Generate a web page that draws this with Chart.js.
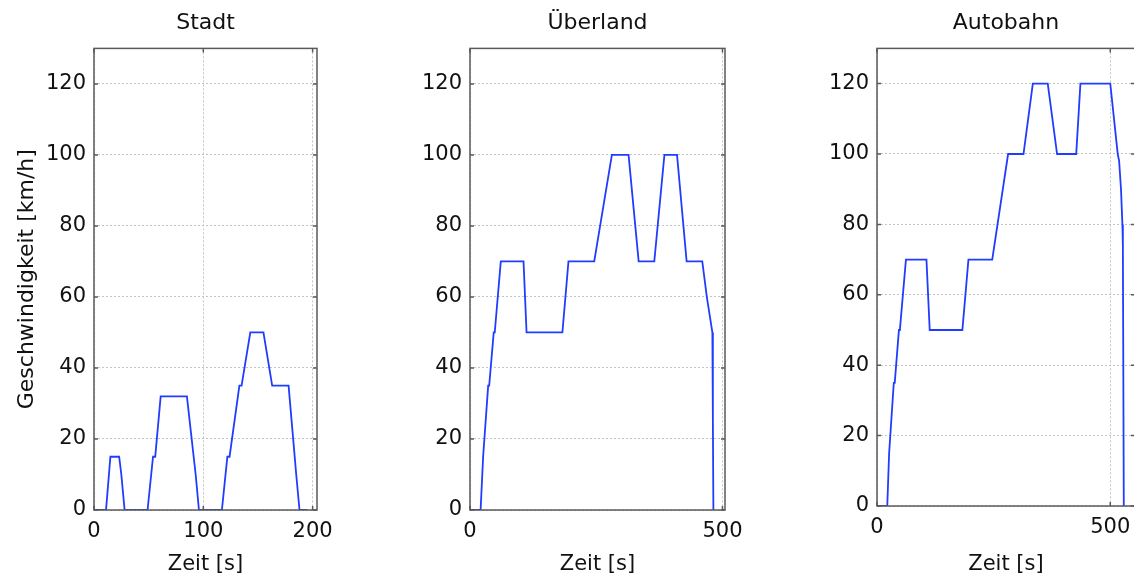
<!DOCTYPE html>
<html>
<head>
<meta charset="utf-8">
<script src="https://cdn.jsdelivr.net/npm/chart.js@4"></script>
<style>
  html, body { margin: 0; padding: 0; background: #fff; overflow: hidden; }
  body { width: 1134px; height: 577px; position: relative; }
  canvas { position: absolute; top: 0; }
</style>
</head>
<body>
<canvas id="stadt" width="340" height="577" style="left:0px"></canvas>
<canvas id="ueberland" width="380" height="577" style="left:380px"></canvas>
<canvas id="autobahn" width="380" height="577" style="left:780px"></canvas>
<script>
// Fahrzyklen: Zeit [s] und Geschwindigkeit [km/h]
var stadtZeit = [0, 11, 15, 23, 25, 28, 49, 54, 56, 61, 85, 93, 96, 117, 122, 124, 133, 135, 143, 155, 163, 176, 178, 185, 188, 195];
var stadtV    = [0,  0, 15, 15, 10,  0,  0, 15, 15, 32, 32, 10,  0,   0,  15,  15,  35,  35,  50,  50,  35,  35,  35,  10,   0,   0];

var ueberlandZeit = [0, 21, 26, 27, 36, 38, 47, 49, 61, 106, 112, 183, 195, 246, 281, 314, 334, 365, 385, 410, 429, 460, 469, 480, 481, 482];
var ueberlandV    = [0,  0, 15, 15, 35, 35, 50, 50, 70,  70,  50,  50,  70,  70, 100, 100,  70,  70, 100, 100,  70,  70,  60,  50,  25,   0];

var autobahnZeit = [0, 22, 26, 27, 36, 38, 47, 49, 62, 106, 113, 183, 196, 247, 281, 314, 334, 366, 386, 427, 436, 500, 516, 519, 523, 526, 527, 529];
var autobahnV    = [0,  0, 15, 15, 35, 35, 50, 50, 70,  70,  50,  50,  70,  70, 100, 100, 120, 120, 100, 100, 120, 120, 100,  98,  90,  80,  74,   0];

var yTicks = [0, 20, 40, 60, 80, 100, 120];
var stadtXTicks = [0, 100, 200];
var langXTicks = [0, 500];

var FONT = 'DejaVu Sans';
var TEXT = '#111';

// Rahmen mit nach innen zeigenden Ticks auf allen vier Seiten
var rahmen = {
    id: 'rahmen',
    afterDatasetsDraw: function (chart) {
        var ctx = chart.ctx;
        var a = chart.chartArea;
        var x = chart.scales.x, y = chart.scales.y;
        ctx.save();
        ctx.strokeStyle = '#5a5a5a';
        ctx.lineWidth = 1.5;
        ctx.beginPath();
        x.ticks.forEach(function (t) {
            var px = x.getPixelForValue(t.value);
            ctx.moveTo(px, a.bottom); ctx.lineTo(px, a.bottom - 4);
            ctx.moveTo(px, a.top); ctx.lineTo(px, a.top + 4);
        });
        y.ticks.forEach(function (t) {
            var py = y.getPixelForValue(t.value);
            ctx.moveTo(a.left, py); ctx.lineTo(a.left + 4, py);
            ctx.moveTo(a.right, py); ctx.lineTo(a.right - 4, py);
        });
        ctx.stroke();
        ctx.strokeRect(a.left, a.top, a.right - a.left, a.bottom - a.top);
        ctx.restore();
    }
};

function punkte(zeit, v) {
    var d = [];
    for (var i = 0; i < zeit.length; i++) {
        d.push({x: zeit[i], y: v[i]});
    }
    return d;
}

function festeTicks(werte) {
    return function (s) {
        s.ticks = werte.map(function (t) { return {value: t}; });
    };
}

// feste Achsgroesse, ohne Zusatzrand fuer ueberstehende Beschriftungen
function festeGroesse(breite, hoehe) {
    return function (s) {
        if (breite) s.width = breite;
        if (hoehe) s.height = hoehe;
        s.paddingLeft = s.paddingRight = s.paddingTop = s.paddingBottom = 0;
    };
}

function zeichneZyklus(id, titel, zeit, v, xMax, xTicks, yWidth, xHeight, padRight, yLabel) {
    var ctx = document.getElementById(id);
    return new Chart(ctx, {
        type: 'line',
        data: {
            datasets: [{
                data: punkte(zeit, v),
                borderColor: '#1f3cff',
                borderWidth: 1.8,
                pointRadius: 0,
                fill: false,
                tension: 0
            }]
        },
        options: {
            responsive: false,
            animation: false,
            devicePixelRatio: 1,
            layout: {padding: {left: 0, right: padRight, top: 0, bottom: 0}},
            plugins: {
                legend: {display: false},
                tooltip: {enabled: false},
                title: {
                    display: true,
                    text: titel,
                    fullSize: false,
                    color: TEXT,
                    font: {family: FONT, size: 22, weight: 'normal'},
                    padding: {top: 10, bottom: 12}
                }
            },
            scales: {
                x: {
                    type: 'linear',
                    min: 0,
                    max: xMax,
                    afterFit: festeGroesse(0, xHeight),
                    afterBuildTicks: festeTicks(xTicks),
                    ticks: {
                        maxRotation: 0,
                        autoSkip: false,
                        padding: 9,
                        color: TEXT,
                        font: {family: FONT, size: 21}
                    },
                    grid: {color: '#c4c4c4', lineWidth: 1, drawTicks: false},
                    border: {display: false, dash: [2, 2]},
                    title: {
                        display: true,
                        text: 'Zeit [s]',
                        color: TEXT,
                        font: {family: FONT, size: 21},
                        padding: {top: 0, bottom: 0}
                    }
                },
                y: {
                    type: 'linear',
                    min: 0,
                    max: 130,
                    afterFit: festeGroesse(yWidth, 0),
                    afterBuildTicks: festeTicks(yTicks),
                    ticks: {
                        padding: 8,
                        color: TEXT,
                        font: {family: FONT, size: 21}
                    },
                    grid: {color: '#c4c4c4', lineWidth: 1, drawTicks: false},
                    border: {display: false, dash: [2, 2]},
                    title: {
                        display: !!yLabel,
                        text: yLabel || '',
                        color: TEXT,
                        font: {family: FONT, size: 22},
                        padding: {top: 14, bottom: 0}
                    }
                }
            }
        },
        plugins: [rahmen]
    });
}

zeichneZyklus('stadt', 'Stadt', stadtZeit, stadtV, 204, stadtXTicks, 94, 67, 23, 'Geschwindigkeit [km/h]');
zeichneZyklus('ueberland', 'Überland', ueberlandZeit, ueberlandV, 505, langXTicks, 90, 67, 35, null);
zeichneZyklus('autobahn', 'Autobahn', autobahnZeit, autobahnV, 553, langXTicks, 97, 71, 25, null);
</script>
</body>
</html>
